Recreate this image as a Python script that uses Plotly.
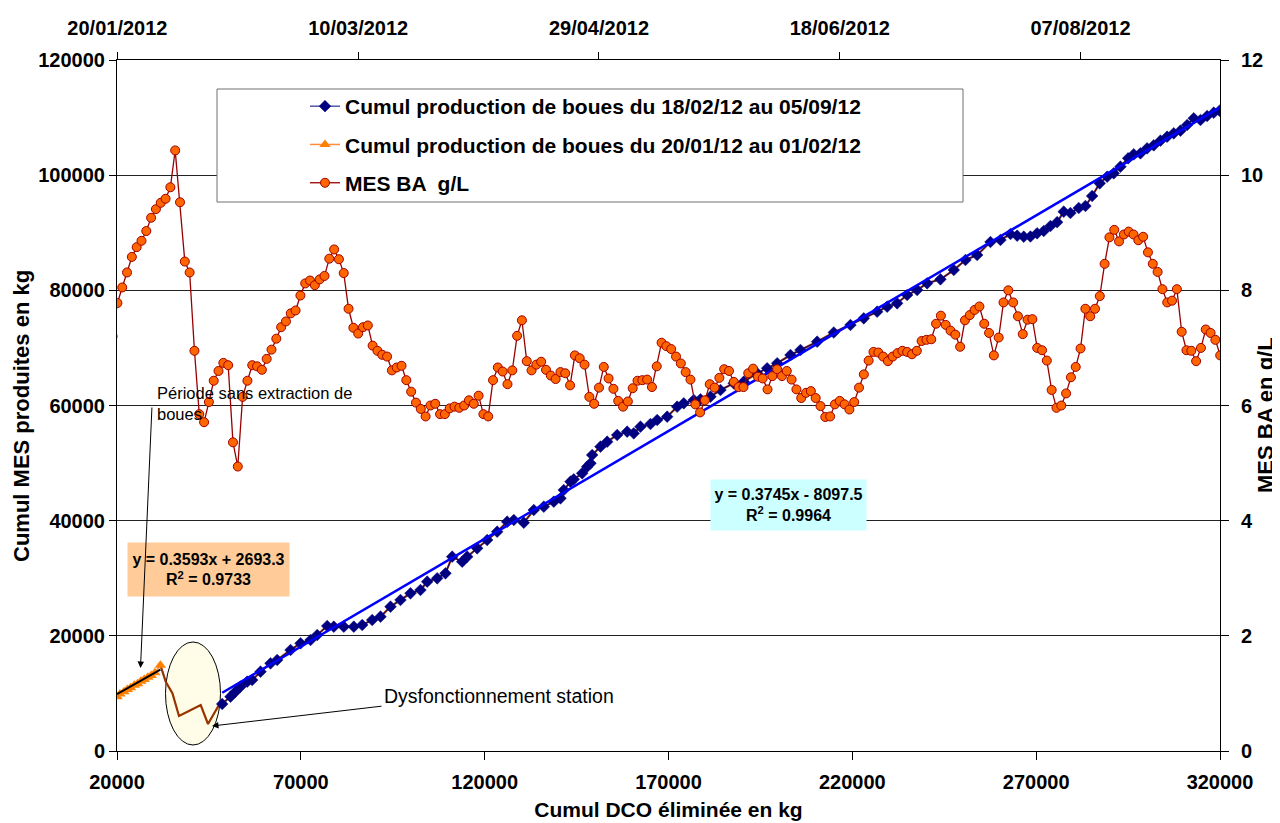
import plotly.graph_objects as go
import pandas as pd

# ---------------- DATA ----------------
# Navy series: cumul DCO eliminee (kg) vs cumul MES produites (kg), 18/02/12 -> 05/09/12
navy_dco = [48614, 50870, 52230, 53590, 55410, 56770, 59030, 61750, 63570, 67200,
            69920, 72640, 74460, 77170, 78970, 81690, 84410, 86690, 89410, 91670,
            94390, 97100, 99820, 102540, 104370, 107090, 109340, 111170, 113890, 115250,
            117960, 120680, 123400, 126120, 127920, 130640, 133360, 136080, 138800, 140620,
            141510, 143340, 144230, 146520, 147880, 148780, 149240, 151500, 153320, 156040,
            158760, 160550, 162380, 165100, 166920, 169640, 172360, 174150, 176870, 178700,
            181420, 184140, 187750, 190470, 194110, 196830, 199560, 203170, 205890, 210430,
            214950, 219490, 223110, 226750, 229470, 232190, 234910, 237630, 240350, 243970,
            247590, 250770, 253950, 257570, 260290, 263010, 264830, 266620, 268440, 270260,
            272060, 273880, 275700, 277500, 279320, 281580, 283400, 285220, 287290, 289310,
            291100, 292920, 295020, 296540, 298360, 300180, 301980, 303800, 305620, 307420,
            309240, 311060, 312860, 314690, 316500, 318300, 319900]
navy_mes = [8162, 9430, 10298, 11166, 12035, 12330, 13771, 15230, 15803, 17540,
            18703, 19276, 20145, 21708, 21586, 21586, 21586, 21881, 22749, 23323,
            25059, 26223, 27386, 27959, 29401, 29991, 30859, 33742, 32874, 33742,
            35201, 36642, 38084, 39820, 40115, 39647, 41852, 42425, 43294, 43884,
            45325, 46767, 47184, 48225, 49371, 49962, 51403, 52845, 53713, 54877,
            55450, 55171, 56318, 56787, 57481, 58055, 59791, 60381, 60955, 61077,
            61528, 62691, 63855, 64133, 65591, 66460, 67328, 68769, 69638, 71080,
            72677, 73979, 75143, 76289, 77157, 77748, 79189, 80057, 81221, 81916,
            83530, 85267, 86135, 88393, 88740, 89782, 89487, 89313, 89348, 89903,
            90303, 91172, 91831, 93655, 93429, 94297, 94645, 96381, 98587, 99734,
            100322, 101471, 102928, 103622, 103796, 104664, 105185, 105985, 106679, 107270,
            107721, 108711, 109874, 109579, 110274, 110847, 111195]

# Orange series: 20/01/12 -> 01/02/12
orange_dco = [20000, 20800, 21900, 22800, 23700, 24700, 25600, 26500, 27400, 28400, 29300, 30300, 31800]
orange_mes = [9400, 9900, 10300, 10700, 11000, 11400, 11700, 12100, 12400, 12800, 13100, 13600, 14900]

# Period of malfunction (line only, between the two series)
dys_dco = [31800, 33250, 35070, 36860, 39150, 42770, 44750, 46850, 47740]
dys_mes = [14900, 12035, 10020, 6080, 6830, 7990, 4690, 7120, 7990]

# MES BA (g/L), daily values starting 19/01/2012
mes_start = "2012-01-19"
mes_ba = [7.2, 7.78, 8.05, 8.31, 8.58, 8.75, 8.86, 9.03, 9.26, 9.41, 9.52, 9.59, 9.79, 10.43, 9.53,
          8.50, 8.31, 6.95, 5.85, 5.71, 6.06, 6.43, 6.60, 6.74, 6.70, 5.36, 4.94, 6.15, 6.43, 6.70,
          6.68, 6.62, 6.81, 6.97, 7.16, 7.36, 7.46, 7.60, 7.65, 7.91, 8.12, 8.17, 8.09, 8.19, 8.25,
          8.55, 8.71, 8.54, 8.30, 7.68, 7.35, 7.25, 7.36, 7.39, 7.04, 6.95, 6.88, 6.85, 6.61, 6.66,
          6.69, 6.44, 6.24, 6.05, 5.94, 5.81, 6.00, 6.03, 5.85, 5.85, 5.95, 5.98, 5.96, 6.00, 6.09,
          6.03, 6.17, 5.85, 5.81, 6.44, 6.66, 6.59, 6.37, 6.61, 7.21, 7.48, 6.77, 6.61, 6.71, 6.76,
          6.62, 6.52, 6.46, 6.58, 6.56, 6.35, 6.87, 6.82, 6.71, 6.15, 6.03, 6.31, 6.67, 6.47, 6.29,
          6.08, 5.98, 6.07, 6.30, 6.43, 6.44, 6.45, 6.32, 6.68, 7.09, 7.03, 6.98, 6.85, 6.73, 6.58,
          6.45, 6.02, 5.88, 6.09, 6.37, 6.31, 6.48, 6.63, 6.60, 6.41, 6.32, 6.32, 6.56, 6.64, 6.50,
          6.47, 6.28, 6.51, 6.63, 6.51, 6.60, 6.45, 6.28, 6.13, 6.22, 6.25, 6.13, 5.99, 5.80, 5.81,
          6.02, 6.08, 6.02, 5.93, 6.06, 6.31, 6.54, 6.78, 6.93, 6.92, 6.85, 6.77, 6.85, 6.91, 6.95,
          6.93, 6.89, 6.95, 7.12, 7.14, 7.15, 7.42, 7.56, 7.40, 7.30, 7.23, 7.02, 7.48, 7.57, 7.66,
          7.72, 7.42, 7.26, 6.87, 7.18, 7.79, 8.00, 7.79, 7.55, 7.24, 7.49, 7.50, 7.00, 6.96, 6.78,
          6.27, 5.96, 6.00, 6.21, 6.49, 6.67, 6.99, 7.68, 7.55, 7.68, 7.90, 8.46, 8.92, 9.05, 8.85,
          8.97, 9.02, 8.97, 8.87, 8.93, 8.66, 8.46, 8.32, 8.02, 7.79, 7.82, 8.02, 7.28, 6.96, 6.95,
          6.77, 7.00, 7.32, 7.26, 7.14, 6.87]
mes_dates = pd.date_range(mes_start, periods=len(mes_ba), freq="D")

# Trend line equations shown on the chart
trend_main = (0.3745, -8097.5)
trend_orange = (0.3593, 2693.3)

# Axis ticks
top_tickvals = ["2012-01-20", "2012-03-10", "2012-04-29", "2012-06-18", "2012-08-07"]
top_ticktext = ["20/01/2012", "10/03/2012", "29/04/2012", "18/06/2012", "07/08/2012"]

# ---------------- FIGURE ----------------
FONT = "Liberation Sans, Arial, sans-serif"
OFF = 8                      # page body margin
W, H = 1272, 815
ML, MR, MT, MB = 109, 60, 52, 72
PW, PH = W - ML - MR, H - MT - MB


def px(x):  # page pixel -> paper
    return (x - OFF - ML) / PW


def py(y):
    return (OFF + H - MB - y) / PH


fig = go.Figure()

# brown line (malfunction + full cumul line under navy markers)
fig.add_trace(go.Scatter(x=dys_dco + navy_dco, y=dys_mes + navy_mes, mode="lines",
                         line=dict(color="#993300", width=2.2), showlegend=False,
                         hoverinfo="skip"))

fig.add_trace(go.Scatter(x=navy_dco, y=navy_mes, mode="lines+markers",
                         name="Cumul production de boues du 18/02/12 au 05/09/12",
                         line=dict(color="#000080", width=1),
                         marker=dict(symbol="diamond", size=9, color="#000080",
                                     line=dict(color="#000080", width=0.5)),
                         legendrank=1, legendgroup="a"))

fig.add_trace(go.Scatter(x=orange_dco, y=orange_mes, mode="lines+markers",
                         name="Cumul production de boues du 20/01/12 au 01/02/12",
                         line=dict(color="#FF8C3A", width=1.5),
                         marker=dict(symbol="triangle-up", size=10, color="#FF7F00"),
                         legendrank=2, legendgroup="b"))

# trend lines
tx = [min(navy_dco), max(navy_dco) + 1000]
fig.add_trace(go.Scatter(x=tx, y=[trend_main[0] * v + trend_main[1] for v in tx],
                         mode="lines", line=dict(color="#0000FF", width=2.5),
                         showlegend=False, hoverinfo="skip"))
ox = [min(orange_dco), max(orange_dco)]
fig.add_trace(go.Scatter(x=ox, y=[trend_orange[0] * v + trend_orange[1] for v in ox],
                         mode="lines", line=dict(color="#000000", width=2),
                         showlegend=False, hoverinfo="skip"))

fig.add_trace(go.Scatter(x=mes_dates, y=mes_ba, mode="lines+markers",
                         name="MES BA  g/L", xaxis="x2", yaxis="y2",
                         line=dict(color="#990000", width=1.3),
                         marker=dict(symbol="circle", size=9, color="#FF6600",
                                     line=dict(color="#A00000", width=1)),
                         legendrank=3, legendgroup="c"))

tickfont = dict(family=FONT, size=20, color="black", weight="bold")
titlefont = dict(family=FONT, size=21, color="black", weight="bold")
vtitlefont = dict(family=FONT, size=22, color="black", weight="bold")

fig.update_layout(
    width=W, height=H,
    margin=dict(l=ML, r=MR, t=MT, b=MB, autoexpand=False),
    paper_bgcolor="white", plot_bgcolor="white",
    font=dict(family=FONT, color="black"),
    xaxis=dict(range=[20000, 320000], tick0=20000, dtick=50000, tickformat="d",
               showgrid=False, zeroline=False, showline=True, linecolor="black",
               linewidth=1, ticks="outside", ticklen=8, tickcolor="black",
               tickfont=tickfont, ticklabelstandoff=5,
               title=dict(text="Cumul DCO éliminée en kg", font=titlefont, standoff=10)),
    yaxis=dict(range=[0, 120000], dtick=20000, tickformat="d",
               showgrid=True, gridcolor="#222222", gridwidth=1, zeroline=False,
               showline=True, linecolor="black", linewidth=1, ticks="outside",
               ticklen=7, tickcolor="black", tickfont=tickfont),
    xaxis2=dict(overlaying="x", side="top", anchor="y2", type="date",
                range=["2012-01-19 22:00", "2012-09-04 23:00"],
                tickvals=top_tickvals, ticktext=top_ticktext,
                showgrid=False, zeroline=False, showline=True, linecolor="black",
                ticks="outside", ticklen=7, tickcolor="black", tickfont=tickfont,
                ticklabelstandoff=9),
    yaxis2=dict(overlaying="y", side="right", anchor="x", range=[0, 12], dtick=2,
                showgrid=False, zeroline=False, showline=True, linecolor="black",
                ticks="outside", ticklen=8, tickcolor="black", tickfont=tickfont,
                ticklabelstandoff=8),
    legend=dict(x=px(305), y=py(86), xanchor="left", yanchor="top",
                bgcolor="rgba(0,0,0,0)", borderwidth=0,
                font=dict(family=FONT, size=21, color="black", weight="bold"),
                tracegroupgap=8, itemwidth=30),
    showlegend=True,
)

# legend frame
fig.add_shape(type="rect", xref="paper", yref="paper",
              x0=px(217), x1=px(963), y0=py(202), y1=py(89),
              line=dict(color="#707070", width=1), fillcolor="white", layer="above")

# ellipse around malfunction
fig.add_shape(type="circle", xref="x", yref="y",
              x0=33190, x1=48150, y0=1040, y1=18930,
              line=dict(color="black", width=1), fillcolor="#FFFDE8", layer="below")

annots = [
    dict(x=px(21), y=py(416), xref="paper", yref="paper", showarrow=False,
         xanchor="center", yanchor="middle", textangle=-90,
         text="Cumul MES produites en kg", font=vtitlefont),
    dict(x=px(1265), y=py(415), xref="paper", yref="paper", showarrow=False,
         xanchor="center", yanchor="middle", textangle=-90,
         text="MES BA en g/L", font=vtitlefont),
    dict(x=px(788.5), y=py(505), xref="paper", yref="paper", showarrow=False,
         xanchor="center", yanchor="middle",
         text="<b>y = 0.3745x - 8097.5<br>R<sup>2</sup> = 0.9964</b>",
         font=dict(family=FONT, size=16, color="black"), bgcolor="#CCFFFF",
         width=153, height=48, borderpad=1, align="center"),
    dict(x=px(208.5), y=py(569.5), xref="paper", yref="paper", showarrow=False,
         xanchor="center", yanchor="middle",
         text="<b>y = 0.3593x + 2693.3<br>R<sup>2</sup> = 0.9733</b>",
         font=dict(family=FONT, size=16, color="black"), bgcolor="#FFCC99",
         width=159, height=51, borderpad=1, align="center"),
    dict(x=px(155), y=py(403), xref="paper", yref="paper", showarrow=False,
         xanchor="left", yanchor="middle", align="left",
         text="Période sans extraction de<br>boues",
         font=dict(family=FONT, size=16.5, color="black")),
    dict(x=px(140.5), y=py(668), xref="paper", yref="paper", showarrow=True,
         ax=11.5, ay=-262, text="", arrowhead=2, arrowsize=1.3, arrowwidth=1,
         arrowcolor="black"),
    dict(x=px(382), y=py(696), xref="paper", yref="paper", showarrow=False,
         xanchor="left", yanchor="middle", text="Dysfonctionnement station",
         font=dict(family=FONT, size=19.5, color="black")),
    dict(x=px(212), y=py(726), xref="paper", yref="paper", showarrow=True,
         ax=171, ay=-20, text="", arrowhead=2, arrowsize=1.3, arrowwidth=1,
         arrowcolor="black"),
]
fig.update_layout(annotations=annots)

fig.write_html("out.html")
